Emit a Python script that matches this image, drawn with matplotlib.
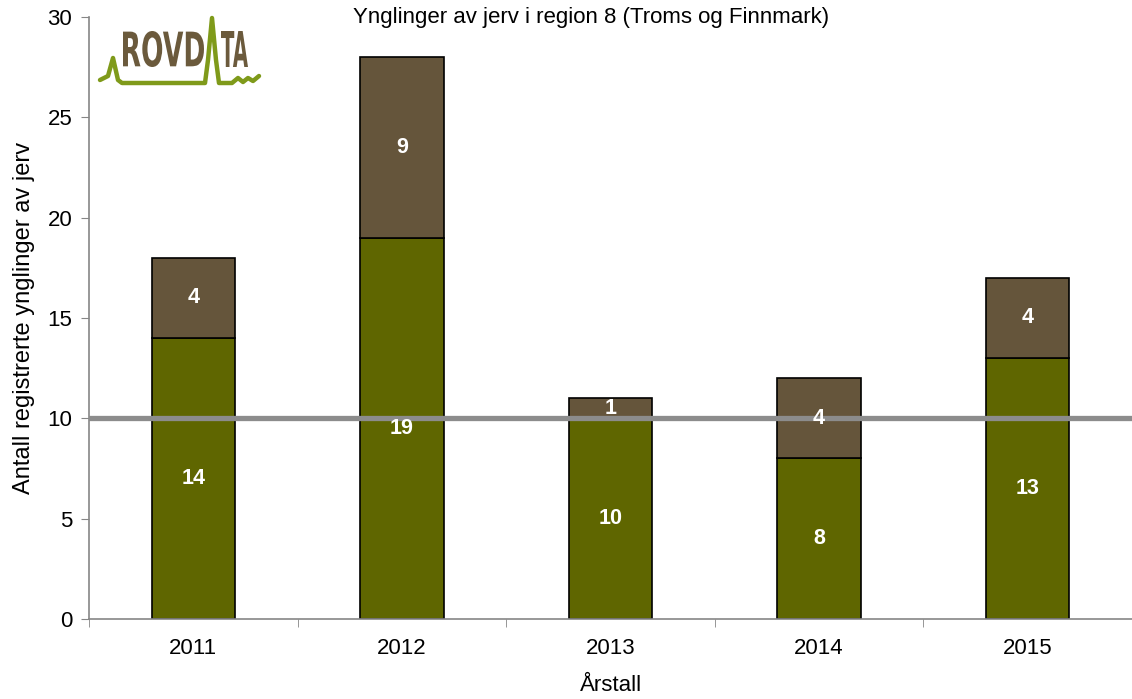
import matplotlib
matplotlib.use("Agg")
import matplotlib.pyplot as plt
from matplotlib.textpath import TextPath
from matplotlib.patches import PathPatch
from matplotlib.font_manager import FontProperties
from matplotlib.transforms import Affine2D

plt.rcParams['font.family'] = ['Liberation Sans', 'DejaVu Sans']

years = ["2011", "2012", "2013", "2014", "2015"]
green_vals = [14, 19, 10, 8, 13]
brown_vals = [4, 9, 1, 4, 4]
reference_level = 10
yticks = [0, 5, 10, 15, 20, 25, 30]

title = "Ynglinger av jerv i region 8 (Troms og Finnmark)"
ylabel = "Antall registrerte ynglinger av jerv"
xlabel = "Årstall"

GREEN = "#5f6600"
BROWN = "#65553b"
GREY = "#868686"

fig = plt.figure(figsize=(11.32, 6.99), dpi=100)
ax = fig.add_axes([89/1132, 1-619/699, 1-89/1132, (619-17)/699])

x = list(range(len(years)))
ax.bar(x, green_vals, width=0.4, color=GREEN, edgecolor="black", linewidth=1.2, zorder=2)
ax.bar(x, brown_vals, width=0.4, bottom=green_vals, color=BROWN, edgecolor="black", linewidth=1.2, zorder=2)

ax.axhline(reference_level, color="#8c8c8c", linewidth=3.8, zorder=3)

for xi, g, b in zip(x, green_vals, brown_vals):
    ax.text(xi, g/2, str(g), ha="center", va="center", color="white", fontsize=15.5, fontweight="bold", zorder=4)
    ax.text(xi, g + b/2, str(b), ha="center", va="center", color="white", fontsize=15.5, fontweight="bold", zorder=4)

ax.set_xlim(-0.5, 4.5 - 2/209)
ax.set_ylim(0, 30)
ax.set_yticks(yticks)
ax.set_xticks(x)
ax.set_xticklabels(years)
ax.set_xticks([i - 0.5 for i in range(len(years)+1)], minor=True)
ax.tick_params(axis="x", which="major", length=0, labelsize=16, pad=14)
ax.tick_params(axis="x", which="minor", length=6, color=GREY, direction="out")
ax.tick_params(axis="y", length=6, color=GREY, labelsize=16, pad=6, direction="out")

for s in ["top", "right"]:
    ax.spines[s].set_visible(False)
for s in ["left", "bottom"]:
    ax.spines[s].set_color(GREY)
    ax.spines[s].set_linewidth(1.2)

ax.set_ylabel(ylabel, fontsize=17, labelpad=9)
ax.set_xlabel(xlabel, fontsize=16, labelpad=11)
fig.text(591/1132, 1-17/699, title, ha="center", va="center", fontsize=16)

# Logo "ROVDATA"
fp = FontProperties(family="Liberation Sans Narrow", weight="bold")
def place_text(s, x0, x1, ytop, ybot):
    tp = TextPath((0, 0), s, size=1, prop=fp)
    bb = tp.get_extents()
    sx = (x1 - x0) / bb.width
    sy = (ybot - ytop) / bb.height
    tr = Affine2D().translate(-bb.x0, -bb.y0).scale(sx, sy).translate(x0, 699 - ybot)
    path = tr.transform_path(tp)
    fig.patches.append(PathPatch(path, facecolor="#6b5a3c", edgecolor="none",
                                 transform=Affine2D().scale(1/1132, 1/699) + fig.transFigure, zorder=5))

place_text("ROVD", 123, 204, 31, 67)
place_text("TA", 221, 248, 31, 67)

lx = [100, 108, 113, 118, 122, 205, 208, 212, 216, 219, 232, 238, 243, 248, 253, 259]
ly = [80, 76, 58, 80, 83, 83, 60, 18, 60, 83, 83, 78, 82, 78, 81, 76]
fig.add_artist(plt.Line2D([a/1132 for a in lx], [1-b/699 for b in ly], color="#7f9a1a",
                          linewidth=3.2, solid_joinstyle="round", solid_capstyle="round",
                          transform=fig.transFigure, zorder=6))

fig.savefig("out.png", dpi=100)
